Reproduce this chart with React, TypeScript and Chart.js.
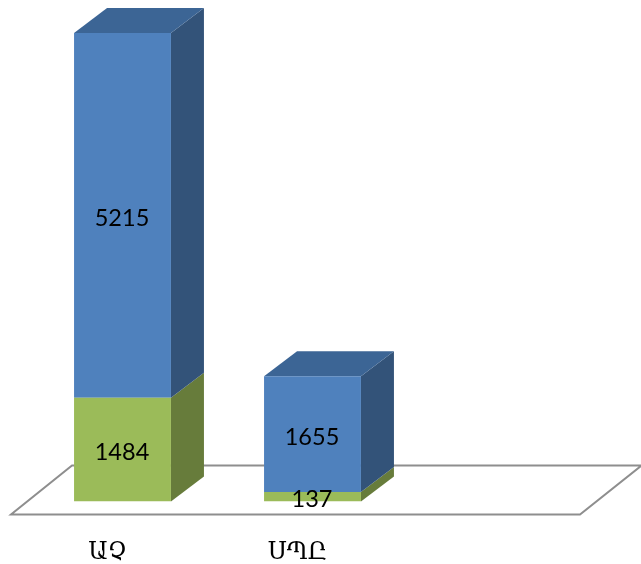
import React, { useEffect, useRef } from "react";
import { Chart, registerables } from "chart.js";

Chart.register(...registerables);

const categories = ["ԱՉ", "ՍՊԸ", ""];
const lowerValues = [1484, 137, null];
const upperValues = [5215, 1655, null];

const DX = 33;
const DY = 25;
const FLOOR_FRONT = 13;
const FLOOR_BACK = 36;

const colors = {
  lowerFront: "#9BBB59",
  lowerSide: "#677C3B",
  lowerTop: "#7A9547",
  upperFront: "#4F81BD",
  upperSide: "#335379",
  upperTop: "#3C6595",
  floor: "#8E8E8E",
};

const box3d = {
  id: "box3d",
  beforeDatasetsDraw(chart: any) {
    const { ctx, chartArea, scales } = chart;
    const base = scales.y.getPixelForValue(0);
    const left = chartArea.left;
    const right = chartArea.right;
    ctx.save();
    // floor
    ctx.beginPath();
    ctx.moveTo(left - 16.5, base + FLOOR_FRONT);
    ctx.lineTo(right - 17.5, base + FLOOR_FRONT);
    ctx.lineTo(right + 44, base - FLOOR_BACK);
    ctx.lineTo(left + 44.5, base - FLOOR_BACK);
    ctx.closePath();
    ctx.strokeStyle = colors.floor;
    ctx.lineWidth = 2;
    ctx.stroke();

    const sides = [colors.lowerSide, colors.upperSide];
    const tops = [colors.lowerTop, colors.upperTop];
    chart.data.datasets.forEach((_: any, di: number) => {
      const meta = chart.getDatasetMeta(di);
      meta.data.forEach((bar: any, i: number) => {
        const v = chart.data.datasets[di].data[i];
        if (v == null) return;
        const p = bar.getProps(["x", "y", "base", "width"], true);
        const r = p.x + p.width / 2;
        const l = p.x - p.width / 2;
        ctx.fillStyle = sides[di];
        ctx.beginPath();
        ctx.moveTo(r, p.y);
        ctx.lineTo(r + DX, p.y - DY);
        ctx.lineTo(r + DX, p.base - DY);
        ctx.lineTo(r, p.base);
        ctx.closePath();
        ctx.fill();
        if (di === chart.data.datasets.length - 1) {
          ctx.fillStyle = tops[di];
          ctx.beginPath();
          ctx.moveTo(l, p.y);
          ctx.lineTo(l + DX, p.y - DY);
          ctx.lineTo(r + DX, p.y - DY);
          ctx.lineTo(r, p.y);
          ctx.closePath();
          ctx.fill();
        }
      });
    });
    ctx.restore();
  },
  afterDatasetsDraw(chart: any) {
    const { ctx } = chart;
    ctx.save();
    ctx.fillStyle = "#000000";
    ctx.font = "23.5px Lato";
    ctx.textAlign = "center";
    ctx.textBaseline = "middle";
    chart.data.datasets.forEach((ds: any, di: number) => {
      chart.getDatasetMeta(di).data.forEach((bar: any, i: number) => {
        const v = ds.data[i];
        if (v == null) return;
        const p = bar.getProps(["x", "y", "base"], true);
        ctx.fillText(String(v), p.x - 0.5, (p.y + p.base) / 2 + 3);
      });
    });
    ctx.restore();
  },
};

export default function App() {
  const ref = useRef<HTMLCanvasElement>(null);
  useEffect(() => {
    const chart = new Chart(ref.current!, {
      type: "bar",
      data: {
        labels: categories,
        datasets: [
          { label: "Series 1", data: lowerValues, backgroundColor: colors.lowerFront, stack: "s" },
          { label: "Series 2", data: upperValues, backgroundColor: colors.upperFront, stack: "s" },
        ],
      },
      options: {
        animation: false,
        responsive: false,
        devicePixelRatio: 1,
        layout: { padding: { left: 27.5, right: 43.5, top: 12, bottom: 0 } },
        datasets: { bar: { categoryPercentage: 1, barPercentage: 0.51 } },
        plugins: { legend: { display: false }, tooltip: { enabled: false } },
        scales: {
          x: {
            stacked: true,
            border: { display: false },
            grid: { display: false, drawTicks: false },
            afterFit(scale: any) {
              scale.height = 62.5;
            },
            ticks: {
              autoSkip: false,
              maxRotation: 0,
              padding: 37,
              labelOffset: -15,
              color: "#000000",
              font: { family: "'DejaVu Serif'", size: 24 },
            },
          },
          y: { stacked: true, display: false, min: 0, max: 7000 },
        },
      },
      plugins: [box3d],
    } as any);
    return () => chart.destroy();
  }, []);
  return (
    <div style={{ position: "absolute", left: 0, top: 0, width: 641, height: 564, background: "#fff" }}>
      <canvas ref={ref} width={641} height={564} style={{ display: "block" }} />
    </div>
  );
}
